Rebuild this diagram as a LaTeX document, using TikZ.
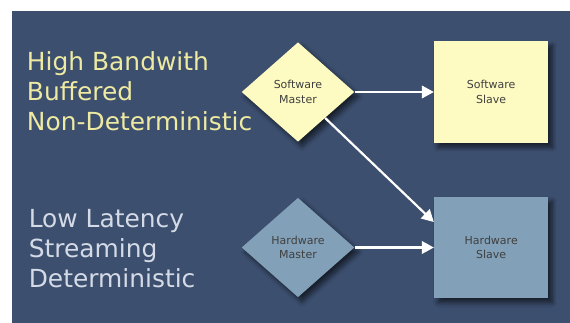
\documentclass[tikz,border=0pt]{standalone}
\usepackage{fontspec}
\setmainfont{DejaVu Sans}
\usetikzlibrary{shapes.geometric,arrows.meta,shadows.blur,calc}

\definecolor{panelblue}{HTML}{3C4F6F}
\definecolor{softfill}{HTML}{FDFBC2}
\definecolor{hardfill}{HTML}{82A0B7}
\definecolor{softtext}{HTML}{EEEAA2}
\definecolor{hardtext}{HTML}{D4DAE6}
\definecolor{boxtext}{HTML}{404040}

\tikzset{
  shade/.style={blur shadow={shadow xshift=4pt, shadow yshift=-4.5pt,
      shadow blur radius=4.5pt, shadow blur steps=10, shadow opacity=60}},
  boxlabel/.style={align=center, text=boxtext,
      font=\fontsize{11}{14.3}\selectfont},
  masterdia/.style={diamond, boxlabel, inner sep=0pt,
      minimum width=112.6pt, minimum height=99.4pt, shade},
  slavebox/.style={rectangle, boxlabel, inner sep=0pt,
      minimum width=114.3pt, minimum height=101.5pt, shade},
  bigline/.style={anchor=base west, inner sep=0pt,
      font=\fontsize{24.9}{30}\selectfont},
  flow/.style={draw=white, line width=2.2pt,
      -{Triangle[length=12pt,width=12.5pt]}},
}

\begin{document}
\begin{tikzpicture}[x=1pt,y=-1pt]
\useasboundingbox (0,0) rectangle (570,323);
\fill[white] (0,0) rectangle (570,323);
\fill[panelblue] (12,11) rectangle (570,323);

% property labels
\node[bigline, text=softtext] (h1) at (26.8,71) {High Bandwith};
\node[bigline, text=softtext] (h2) at (26.8,101) {Buffered};
\node[bigline, text=softtext] (h3) at (26.8,131) {Non-Deterministic};
\node[bigline, text=hardtext] (l1) at (28.6,227.7) {Low Latency};
\node[bigline, text=hardtext] (l2) at (28.6,257.5) {Streaming};
\node[bigline, text=hardtext] (l3) at (28.6,287) {Deterministic};

% masters and slaves
\node[masterdia, fill=softfill] (sm) at (298,92) {Software\\Master};
\node[slavebox, fill=softfill] (ss) at (491.2,92) {Software\\Slave};
\node[masterdia, fill=hardfill] (hm) at (298,247.5) {Hardware\\Master};
\node[slavebox, fill=hardfill] (hs) at (491.2,247.5) {Hardware\\Slave};

\coordinate (hsin) at ($(hs.north west)!0.25!(hs.south west)$);

% connections
\draw[flow] (sm.east) -- (ss.west);
\draw[flow] (sm) -- (hsin);
\draw[flow] (hm.east) -- (hs.west);
\end{tikzpicture}
\end{document}
